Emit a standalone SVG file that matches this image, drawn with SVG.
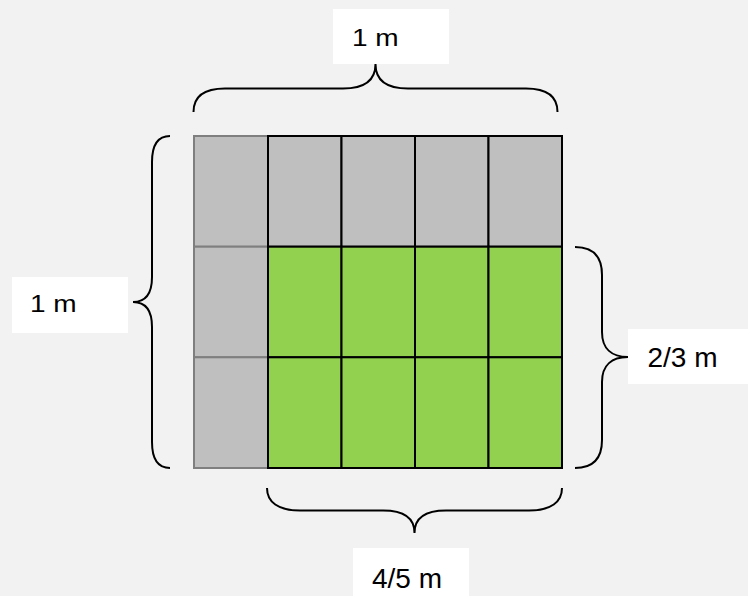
<svg xmlns="http://www.w3.org/2000/svg" width="748" height="596" viewBox="0 0 748 596">
<style>
.bg{fill:#f2f2f2}
.box{fill:#ffffff}
.lbl{font-family:"Liberation Sans",Arial,sans-serif;font-size:28px;fill:#000}
.gc{fill:#bfbfbf;stroke:#7f7f7f;stroke-width:2}
.gk{fill:#bfbfbf;stroke:#000;stroke-width:2}
.gr{fill:#92d050;stroke:#000;stroke-width:2}
.brace{fill:none;stroke:#000;stroke-width:2}
</style>
<rect class="bg" x="0" y="0" width="748" height="596"/>
<g id="grid">
<rect class="gc" x="194" y="136" width="74" height="110.7"/>
<rect class="gc" x="194" y="246.7" width="74" height="110.6"/>
<rect class="gc" x="194" y="357.3" width="74" height="110.7"/>
<rect class="gk" x="268" y="136" width="73.5" height="110.7"/>
<rect class="gk" x="341.5" y="136" width="73.5" height="110.7"/>
<rect class="gk" x="415" y="136" width="73.5" height="110.7"/>
<rect class="gk" x="488.5" y="136" width="73.5" height="110.7"/>
<rect class="gr" x="268" y="246.7" width="73.5" height="110.6"/>
<rect class="gr" x="341.5" y="246.7" width="73.5" height="110.6"/>
<rect class="gr" x="415" y="246.7" width="73.5" height="110.6"/>
<rect class="gr" x="488.5" y="246.7" width="73.5" height="110.6"/>
<rect class="gr" x="268" y="357.3" width="73.5" height="110.7"/>
<rect class="gr" x="341.5" y="357.3" width="73.5" height="110.7"/>
<rect class="gr" x="415" y="357.3" width="73.5" height="110.7"/>
<rect class="gr" x="488.5" y="357.3" width="73.5" height="110.7"/>
</g>
<g id="connectors">
<path class="brace" d="M193.5,112 C193.5,96 205,88.5 225,88.5 L343,88.5 C365,88.5 375.5,80 375.5,64 C375.5,80 386,88.5 408,88.5 L526,88.5 C546,88.5 557.5,96 557.5,112"/>
<path class="brace" d="M170,136 C158,136 152,144 152,162 L152,277 C152,293 146,302 133,302 C146,302 152,311 152,327 L152,442 C152,460 158,468 170,468"/>
<path class="brace" d="M575,247 C592,247 602,255 602,275 L602,332 C602,349 612,357 628,357 C612,357 602,365 602,382 L602,440 C602,459 592,468 575,468"/>
<path class="brace" d="M267,488 C267,502 278,510.5 300,510.5 L383,510.5 C404,510.5 414.5,518 414.5,533 C414.5,518 425,510.5 446,510.5 L529,510.5 C551,510.5 562,502 562,488"/>
</g>
<g id="label-top">
<rect class="box" x="333" y="9" width="116" height="55"/>
<text class="lbl" transform="translate(352,45.5) scale(1,0.88)">1 m</text>
</g>
<g id="label-left">
<rect class="box" x="12" y="277" width="116" height="56"/>
<text class="lbl" transform="translate(30,312) scale(1,0.88)">1 m</text>
</g>
<g id="label-right">
<rect class="box" x="628" y="329" width="120" height="55"/>
<text class="lbl" x="647.5" y="366.5">2/3 m</text>
</g>
<g id="label-bottom">
<rect class="box" x="353" y="548" width="116" height="48"/>
<text class="lbl" x="372" y="588">4/5 m</text>
</g>
</svg>
